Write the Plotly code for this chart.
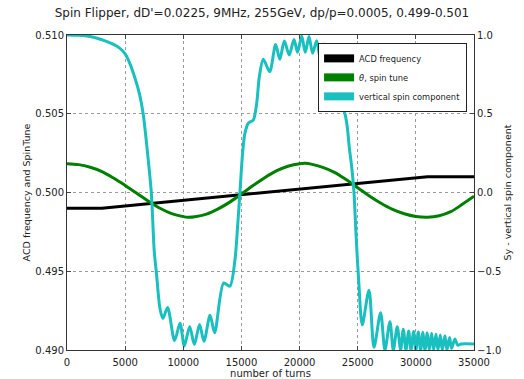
import plotly.graph_objects as go

# ---- data ----
acd_turns = [0, 3000, 31000, 35000]
acd_freq = [0.499, 0.499, 0.501, 0.501]

tune_turns = [0, 1000, 2000, 3000, 4000, 5000, 6000, 7000, 8000, 9000, 10000, 10400,
              11000, 12000, 13000, 14000, 15000, 16000, 17000, 18000, 19000, 20000, 20500,
              21000, 22000, 23000, 24000, 25000, 26000, 27000, 28000, 29000, 30000, 31000,
              32000, 33000, 34000, 35000]
spin_tune = [0.50183, 0.50177, 0.50160, 0.50133, 0.50092, 0.50045, 0.49995, 0.49945,
             0.49900, 0.49866, 0.49847, 0.49843,
             0.49846, 0.49863, 0.49896, 0.49939, 0.49990, 0.50044, 0.50094, 0.50137,
             0.50167, 0.50183, 0.50185,
             0.50180, 0.50160, 0.50128, 0.50082, 0.50030, 0.49978, 0.49932, 0.49893,
             0.49865, 0.49848, 0.49843, 0.49852, 0.49878, 0.49925, 0.49976]

sy_turns = [0, 1000, 2000, 3000, 3500, 4000, 4500, 5000, 5400, 5850, 6250, 6550, 6900,
            7250, 7500, 7700, 8000, 8250, 8650, 9250, 9720, 10090, 10550, 10950, 11400,
            11780, 12300, 12700, 13470, 14000, 14440, 14670, 14870, 15100, 15300, 15590,
            16020, 16310, 16540, 16880, 17430, 17940, 18300, 18690, 19110, 19520, 19830,
            20180, 20490, 20810, 21120, 21470, 21810, 22100, 22470, 22700, 23130, 23470,
            23900, 24100, 24270, 24480, 24680, 24850, 25100, 25390, 25970, 26400, 26970,
            27340, 27770, 28060, 28400, 28690, 28920, 29150, 29380, 29580, 29810, 30000,
            30210, 30410, 30610, 30780, 30980, 31150, 31360, 31530, 31730, 31900, 32100,
            32270, 32500, 32670, 32900, 33070, 33360, 33600, 33900, 35000]
sy_values = [1.0, 0.998, 0.99, 0.97, 0.956, 0.94, 0.918, 0.88, 0.82, 0.725, 0.62, 0.50, 0.27,
             0.0, -0.37, -0.52, -0.74, -0.80, -0.73, -0.94, -0.83, -0.975, -0.85, -0.965, -0.838,
             -0.945, -0.78, -0.89, -0.575, -0.595, -0.43, -0.217, 0.0, 0.25, 0.376, 0.44,
             0.46, 0.566, 0.735, 0.846, 0.767, 0.94, 0.846, 0.962, 0.873, 0.972, 0.89,
             0.994, 0.89, 0.99, 0.884, 0.964, 0.84, 0.943, 0.824, 0.894, 0.67, 0.587,
             0.50, 0.418, 0.29, 0.164, 0.0, -0.26, -0.58, -0.84, -0.62, -0.983, -0.763,
             -1.0, -0.82, -1.0, -0.852, -1.0, -0.868, -1.0, -0.879, -1.0, -0.883, -1.0,
             -0.886, -1.0, -0.888, -1.0, -0.89, -1.0, -0.893, -1.0, -0.90, -1.0, -0.905,
             -1.0, -0.91, -1.0, -0.92, -0.99, -0.93, -0.97, -0.962, -0.962]

x_ticks = [0, 5000, 10000, 15000, 20000, 25000, 30000, 35000]
x_ticklabels = ["0", "5000", "10000", "15000", "20000", "25000", "30000", "35000"]
y_ticks = [0.490, 0.495, 0.500, 0.505, 0.510]
y_ticklabels = ["0.490", "0.495", "0.500", "0.505", "0.510"]
y2_ticks = [-1.0, -0.5, 0.0, 0.5, 1.0]
y2_ticklabels = ["\u22121.0", "\u22120.5", "0.0", "0.5", "1.0"]

names = ["ACD frequency", "<i>\u03b8</i>, spin tune", "vertical spin component"]
colors = ["#000000", "#008000", "#1abfbf"]

FONT = "DejaVu Sans"

fig = go.Figure()
fig.add_trace(go.Scatter(x=acd_turns, y=acd_freq, mode="lines",
                         line=dict(color=colors[0], width=3), showlegend=False, yaxis="y"))
fig.add_trace(go.Scatter(x=tune_turns, y=spin_tune, mode="lines",
                         line=dict(color=colors[1], width=3, shape="spline", smoothing=1),
                         showlegend=False, yaxis="y"))
fig.add_trace(go.Scatter(x=sy_turns, y=sy_values, mode="lines",
                         line=dict(color=colors[2], width=3, shape="spline", smoothing=0.8),
                         showlegend=False, yaxis="y2"))
# legend patches
for n, c in zip(names, colors):
    fig.add_trace(go.Scatter(x=[None], y=[None], mode="lines", name=n,
                             line=dict(color=c, width=8), yaxis="y"))

grid = dict(showgrid=True, gridcolor="#9a9a9a", griddash="dot", gridwidth=1)

fig.update_layout(
    width=524, height=379,
    margin=dict(l=67, r=50, t=35, b=29),
    paper_bgcolor="white", plot_bgcolor="white",
    font=dict(family=FONT, size=10, color="#222"),
    title=dict(text="Spin Flipper, dD'=0.0225, 9MHz, 255GeV, dp/p=0.0005, 0.499-0.501",
               x=0.5, xanchor="center", y=1 - 13 / 379, yanchor="middle", yref="container",
               font=dict(size=12, family=FONT, color="#222")),
    xaxis=dict(range=[0, 35000], tickvals=x_ticks, ticktext=x_ticklabels,
               ticks="inside", ticklen=4, ticklabelstandoff=3, automargin=False,
               showline=True, linecolor="#333", linewidth=1, mirror="ticks",
               zeroline=False, title=dict(text="number of turns", standoff=2,
                                          font=dict(size=10)), **grid),
    yaxis=dict(range=[0.49, 0.51], tickvals=y_ticks, ticktext=y_ticklabels, automargin=False,
               ticks="inside", ticklen=4, showline=True, linecolor="#333", linewidth=1,
               zeroline=False, title=dict(text="ACD frequency and SpinTune", standoff=3,
                                          font=dict(size=9.5)), **grid),
    yaxis2=dict(range=[-1, 1], tickvals=y2_ticks, ticktext=y2_ticklabels, overlaying="y",
                side="right", ticks="inside", ticklen=4, showline=True, linecolor="#333",
                linewidth=1, showgrid=False, zeroline=False, automargin=False,
                title=dict(text="Sy - vertical spin component", standoff=4,
                           font=dict(size=9.5))),
    legend=dict(x=0.983, y=0.975, xanchor="right", yanchor="top", bgcolor="white",
                bordercolor="#222", borderwidth=1, font=dict(size=8.3, family=FONT),
                tracegroupgap=0, itemwidth=30),
)

fig.write_html("out.html")
